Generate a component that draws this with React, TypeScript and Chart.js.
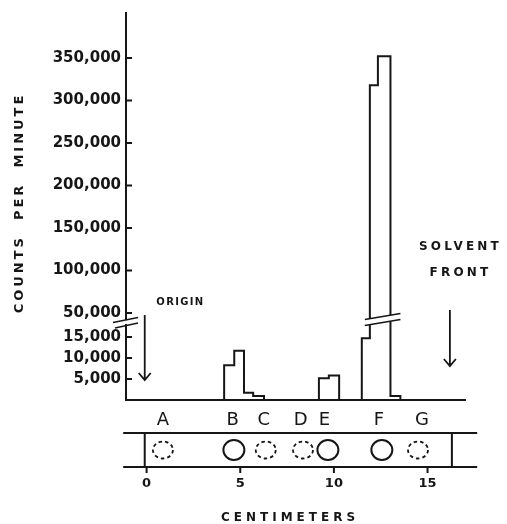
import React, { useEffect, useRef } from "react";
import { Chart, registerables } from "chart.js";

Chart.register(...registerables);

// ---- data (centimeters / counts per minute) ----
const binLeft = [4.14, 4.68, 5.2, 5.69, 9.2, 9.73, 11.49, 11.92, 12.35, 13.02];
const binRight = [4.68, 5.2, 5.69, 6.27, 9.73, 10.28, 11.92, 12.35, 13.02, 13.55];
const counts = [8300, 11700, 1700, 950, 5150, 5850, 14700, 318000, 352000, 950];

const yTickValues = [5000, 10000, 15000, 50000, 100000, 150000, 200000, 250000, 300000, 350000];
const xTickValues = [0, 5, 10, 15];

const spotLabels = ["A", "B", "C", "D", "E", "F", "G"];
const spotLabelPos = [0.87, 4.6, 6.26, 8.23, 9.5, 12.4, 14.7];
const spotCirclePos = [0.87, 4.66, 6.36, 8.35, 9.68, 12.56, 14.49];
const spotDashed = [true, false, true, true, false, false, true];

const originCm = -0.1;
const solventFrontCm = 16.3;

// ---- broken-axis transform ----
const LOW_MAX = 15000;
const HIGH_MIN = 50000;
const HIGH_MAX = 350000;
const LOW_SPAN = 63;
const GAP_SPAN = 24;
const HIGH_SPAN = 255;
const Y_MAX = 387;
const X_MIN = -1.1;
const X_MAX = 17.0;

function toDisplay(v: number): number {
  if (v <= LOW_MAX) return (v / LOW_MAX) * LOW_SPAN;
  if (v < HIGH_MIN) return LOW_SPAN + ((v - LOW_MAX) / (HIGH_MIN - LOW_MAX)) * GAP_SPAN;
  return LOW_SPAN + GAP_SPAN + ((v - HIGH_MIN) / (HIGH_MAX - HIGH_MIN)) * HIGH_SPAN;
}

function buildOutline() {
  const pts: { x: number; y: number }[] = [{ x: X_MIN, y: 0 }];
  for (let i = 0; i < counts.length; i++) {
    pts.push({ x: binLeft[i], y: toDisplay(counts[i]) });
    const nextStart = i + 1 < counts.length ? binLeft[i + 1] : null;
    if (nextStart === null || Math.abs(nextStart - binRight[i]) > 1e-6) {
      pts.push({ x: binRight[i], y: 0 });
    }
  }
  pts.push({ x: X_MAX, y: 0 });
  return pts;
}

const INK = "#161616";

function spacedText(ctx: CanvasRenderingContext2D, text: string, x: number, y: number, spacing: number) {
  (ctx as any).letterSpacing = spacing + "px";
  const w = ctx.measureText(text).width - spacing;
  ctx.textAlign = "left";
  ctx.fillText(text, x - w / 2, y);
  (ctx as any).letterSpacing = "0px";
}

function drawArrow(ctx: CanvasRenderingContext2D, x: number, y0: number, y1: number) {
  ctx.beginPath();
  ctx.moveTo(x, y0);
  ctx.lineTo(x, y1);
  ctx.moveTo(x - 6, y1 - 7);
  ctx.lineTo(x, y1);
  ctx.lineTo(x + 6, y1 - 7);
  ctx.stroke();
}

const decorPlugin = {
  id: "decor",
  afterDraw(chart: any) {
    const ctx: CanvasRenderingContext2D = chart.ctx;
    const xs = chart.scales.x;
    const ys = chart.scales.y;
    const area = chart.chartArea;
    ctx.save();
    ctx.strokeStyle = INK;
    ctx.fillStyle = INK;
    ctx.lineWidth = 2;

    // inward y ticks
    ctx.beginPath();
    for (const v of yTickValues) {
      const py = ys.getPixelForValue(toDisplay(v));
      ctx.moveTo(area.left, py);
      ctx.lineTo(area.left + 6, py);
    }
    ctx.stroke();

    // axis break
    const axisBreak = ys.getPixelForValue(LOW_SPAN + GAP_SPAN / 2) - 3;
    ctx.fillStyle = "#fff";
    ctx.fillRect(area.left - 3, axisBreak - 2, 6, 4);
    ctx.fillStyle = INK;
    ctx.lineWidth = 1.6;
    ctx.beginPath();
    ctx.moveTo(area.left - 13, axisBreak + 0.5);
    ctx.lineTo(area.left + 12, axisBreak - 4.5);
    ctx.moveTo(area.left - 11, axisBreak + 6);
    ctx.lineTo(area.left + 12, axisBreak + 1);
    ctx.stroke();

    // peak break
    let fl = Infinity, fr = -Infinity;
    counts.forEach((c, i) => {
      if (c > HIGH_MIN) { fl = Math.min(fl, binLeft[i]); fr = Math.max(fr, binRight[i]); }
    });
    const pl = xs.getPixelForValue(fl);
    const pr = xs.getPixelForValue(fr);
    const peakBreak = ys.getPixelForValue(LOW_SPAN + GAP_SPAN / 2) - 6;
    ctx.fillStyle = "#fff";
    ctx.beginPath();
    ctx.moveTo(pl - 5, peakBreak + 0.5);
    ctx.lineTo(pr + 10, peakBreak - 5.5);
    ctx.lineTo(pr + 10, peakBreak + 0.5);
    ctx.lineTo(pl - 5, peakBreak + 6.5);
    ctx.closePath();
    ctx.fill();
    ctx.fillStyle = INK;
    ctx.beginPath();
    ctx.moveTo(pl - 5, peakBreak + 0.5);
    ctx.lineTo(pr + 10, peakBreak - 5.5);
    ctx.moveTo(pl - 5, peakBreak + 6.5);
    ctx.lineTo(pr + 10, peakBreak + 0.5);
    ctx.stroke();

    // strip
    const stripTop = area.bottom + 33;
    const stripBot = area.bottom + 67;
    const sl = xs.getPixelForValue(-1.25);
    const sr = xs.getPixelForValue(17.65);
    ctx.lineWidth = 2;
    ctx.beginPath();
    ctx.moveTo(sl, stripTop);
    ctx.lineTo(sr, stripTop);
    ctx.moveTo(sl, stripBot);
    ctx.lineTo(sr, stripBot);
    const ox = xs.getPixelForValue(originCm);
    const fx = xs.getPixelForValue(solventFrontCm);
    ctx.moveTo(ox, stripTop);
    ctx.lineTo(ox, stripBot);
    ctx.moveTo(fx, stripTop);
    ctx.lineTo(fx, stripBot + 1);
    for (const t of xTickValues) {
      const tx = xs.getPixelForValue(t);
      ctx.moveTo(tx, stripBot);
      ctx.lineTo(tx, stripBot + 6);
    }
    ctx.stroke();

    // spots
    const cy = (stripTop + stripBot) / 2;
    spotCirclePos.forEach((cm, i) => {
      const cx = xs.getPixelForValue(cm);
      ctx.beginPath();
      if (spotDashed[i]) {
        ctx.setLineDash([3.5, 3]);
        ctx.lineWidth = 1.8;
        ctx.ellipse(cx, cy, 10, 8.5, 0, 0, Math.PI * 2);
      } else {
        ctx.setLineDash([]);
        ctx.lineWidth = 2;
        ctx.ellipse(cx, cy, 10.5, 10, 0, 0, Math.PI * 2);
      }
      ctx.stroke();
    });
    ctx.setLineDash([]);

    // spot letters
    ctx.font = "18px 'DejaVu Sans'";
    ctx.textBaseline = "middle";
    ctx.textAlign = "center";
    spotLabels.forEach((s, i) => {
      ctx.fillText(s, xs.getPixelForValue(spotLabelPos[i]), area.bottom + 20);
    });

    // annotations
    ctx.font = "bold 10px 'DejaVu Sans'";
    spacedText(ctx, "ORIGIN", ox + 12 + 23, ys.getPixelForValue(toDisplay(HIGH_MIN)) - 11, 1.3);
    ctx.lineWidth = 1.8;
    drawArrow(ctx, ox, ys.getPixelForValue(toDisplay(HIGH_MIN)) + 2, ys.getPixelForValue(toDisplay(5000)) + 1);

    ctx.font = "bold 12px 'DejaVu Sans'";
    spacedText(ctx, "SOLVENT", fx + 7, 247, 3.2);
    spacedText(ctx, "FRONT", fx + 7, 273, 3.2);
    drawArrow(ctx, fx - 2, 310, 366);

    // axis titles
    ctx.font = "bold 12px 'DejaVu Sans'";
    spacedText(ctx, "CENTIMETERS", 288, 518, 4);
    ctx.save();
    ctx.translate(20, (area.top + area.bottom) / 2 - 2);
    ctx.rotate(-Math.PI / 2);
    ctx.font = "bold 13px 'DejaVu Sans'";
    spacedText(ctx, "COUNTS  PER  MINUTE", 0, 0, 3);
    ctx.restore();

    ctx.restore();
  },
};

export default function App() {
  const ref = useRef<HTMLCanvasElement | null>(null);
  useEffect(() => {
    if (!ref.current) return;
    const chart = new Chart(ref.current, {
      type: "line",
      data: {
        datasets: [
          {
            data: buildOutline(),
            stepped: true,
            borderColor: INK,
            borderWidth: 2,
            pointRadius: 0,
            fill: false,
          },
        ],
      },
      options: {
        animation: false,
        responsive: false,
        maintainAspectRatio: false,
        events: [],
        layout: { padding: { top: 13, right: 42, left: 0, bottom: 0 } },
        plugins: { legend: { display: false }, tooltip: { enabled: false }, title: { display: false } },
        scales: {
          x: {
            type: "linear",
            min: X_MIN,
            max: X_MAX,
            afterBuildTicks: (s: any) => {
              s.ticks = xTickValues.map((v) => ({ value: v }));
            },
            afterFit: (s: any) => {
              s.height = 124;
              s.paddingLeft = 0;
              s.paddingRight = 0;
            },
            grid: { display: false, drawTicks: false },
            border: { display: true, color: INK, width: 2 },
            ticks: {
              padding: 76,
              autoSkip: false,
              maxRotation: 0,
              color: INK,
              font: { family: "'DejaVu Sans'", size: 13, weight: "bold" },
              callback: (v: any) => String(v),
            },
          },
          y: {
            type: "linear",
            min: 0,
            max: Y_MAX,
            afterBuildTicks: (s: any) => {
              s.ticks = yTickValues.map((v) => ({ value: toDisplay(v) }));
            },
            afterFit: (s: any) => {
              s.width = 126;
              s.paddingTop = 0;
              s.paddingBottom = 0;
            },
            grid: { display: false, drawTicks: false },
            border: { display: true, color: INK, width: 2 },
            ticks: {
              padding: 5,
              autoSkip: false,
              color: INK,
              font: { family: "'DejaVu Sans'", size: 15, weight: "bold" },
              callback: (_v: any, i: number) => yTickValues[i].toLocaleString("en-US"),
            },
          },
        },
      },
      plugins: [decorPlugin],
    });
    return () => chart.destroy();
  }, []);
  return (
    <div style={{ position: "absolute", left: 0, top: 0, width: 507, height: 524, background: "#fff" }}>
      <canvas ref={ref} width={507} height={524} style={{ display: "block", width: 507, height: 524 }} />
    </div>
  );
}
